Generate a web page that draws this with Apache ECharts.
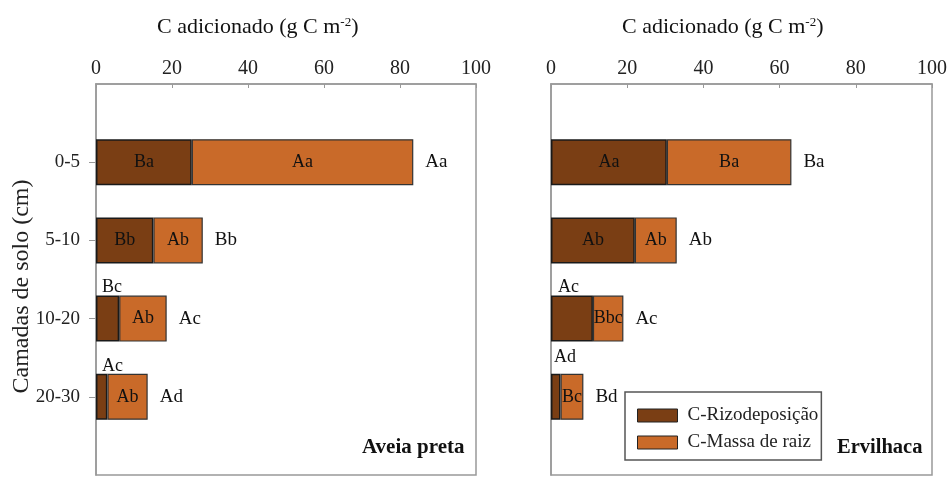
<!DOCTYPE html>
<html>
<head>
<meta charset="utf-8">
<script src="https://cdn.jsdelivr.net/npm/echarts@6/dist/echarts.min.js"></script>
<style>html,body{margin:0;padding:0;background:#fff}#c{width:952px;height:479px}</style>
</head>
<body>
<div id="c"></div>
<script>
// ---- data ----
const layers = ['0-5', '5-10', '10-20', '20-30'];
const xTicks = [0, 20, 40, 60, 80, 100];
// Aveia preta
const aveiaRizo = [25.2, 15.1, 6.1, 3.0];
const aveiaMassa = [58.3, 13.0, 12.5, 10.6];
const aveiaRizoLetters = ['Ba', 'Bb', 'Bc', 'Ac'];
const aveiaMassaLetters = ['Aa', 'Ab', 'Ab', 'Ab'];
const aveiaTotalLetters = ['Aa', 'Bb', 'Ac', 'Ad'];
// Ervilhaca
const ervRizo = [30.4, 22.0, 11.0, 2.5];
const ervMassa = [32.7, 11.0, 8.0, 6.0];
const ervRizoLetters = ['Aa', 'Ab', 'Ac', 'Ad'];
const ervMassaLetters = ['Ba', 'Ab', 'Bbc', 'Bc'];
const ervTotalLetters = ['Ba', 'Ab', 'Ac', 'Bd'];
const seriesNames = ['C-Rizodeposição', 'C-Massa de raiz'];
const panelNames = ['Aveia preta', 'Ervilhaca'];

// ---- styling ----
const FONT = "'Liberation Serif', 'Times New Roman', serif";
const cRizo = '#7a3e14';
const cMassa = '#c96a29';
const cats = [''].concat(layers).concat(['']);

function makeSeries(idx, rizo, massa, rL, mL, tL, aboveOffsets) {
  const stack = 's' + idx;
  const rizoData = rizo.map((v, i) => {
    const item = { value: [v, layers[i]] };
    if (aboveOffsets[i]) {
      item.label = { position: aboveOffsets[i], align: 'left', verticalAlign: 'bottom' };
    }
    return item;
  });
  return [
    {
      name: seriesNames[0], type: 'bar', stack, xAxisIndex: idx, yAxisIndex: idx,
      barWidth: 46,
      itemStyle: { color: cRizo, borderColor: '#1a1a1a', borderWidth: 1.5 },
      label: { show: true, position: 'inside', fontFamily: FONT, fontSize: 18, color: '#111',
        formatter: p => rL[p.dataIndex] },
      data: rizoData
    },
    {
      name: seriesNames[1], type: 'bar', stack, xAxisIndex: idx, yAxisIndex: idx,
      barWidth: 46,
      itemStyle: { color: cMassa, borderColor: '#333', borderWidth: 1.2 },
      label: { show: true, position: 'inside', fontFamily: FONT, fontSize: 18, color: '#111',
        formatter: p => mL[p.dataIndex] },
      data: massa.map((v, i) => [v, layers[i]])
    },
    {
      name: 'total', type: 'bar', stack, xAxisIndex: idx, yAxisIndex: idx,
      barWidth: 46, silent: true,
      itemStyle: { color: 'rgba(0,0,0,0)', borderWidth: 0 },
      label: { show: true, position: 'right', distance: 12, fontFamily: FONT, fontSize: 19, color: '#111',
        formatter: p => tL[p.dataIndex] },
      data: layers.map(l => [0, l])
    }
  ];
}

const chart = echarts.init(document.getElementById('c'));
const grids = [
  { left: 96, right: 476, top: 84, bottom: 4 },
  { left: 551, right: 20, top: 84, bottom: 4 }
];
const titleRich = {
  a: { fontFamily: FONT, fontSize: 22, fontWeight: 'normal', color: '#111' },
  s: { fontFamily: FONT, fontSize: 13, fontWeight: 'normal', color: '#111', verticalAlign: 'top', padding: [0, 0, 10, 0] }
};
const option = {
  backgroundColor: '#fff',
  animation: false,
  textStyle: { fontFamily: FONT },
  title: [
    { text: '{a|C adicionado (g C m}{s|-2}{a|)}', left: 157, top: 16, padding: 0,
      textStyle: { fontWeight: 'normal', rich: titleRich } },
    { text: '{a|C adicionado (g C m}{s|-2}{a|)}', left: 622, top: 16, padding: 0,
      textStyle: { fontWeight: 'normal', rich: titleRich } },
    { text: panelNames[0], left: 362, top: 437, padding: 0, textStyle: { fontFamily: FONT, fontSize: 21, fontWeight: 'bold', color: '#111' } },
    { text: panelNames[1], left: 837, top: 437, padding: 0, textStyle: { fontFamily: FONT, fontSize: 20.5, fontWeight: 'bold', color: '#111' } }
  ],
  legend: {
    data: seriesNames, orient: 'vertical', left: 625, top: 392,
    itemWidth: 40, itemHeight: 13, itemGap: 8,
    padding: [14, 3, 8, 12],
    borderColor: '#555', borderWidth: 1.5,
    icon: 'rect',
    itemStyle: { borderColor: '#222', borderWidth: 1 },
    textStyle: { fontFamily: FONT, fontSize: 19, color: '#222', padding: [0, 0, 0, 5] }
  },
  grid: grids.map(g => Object.assign({ show: true, borderColor: '#999', borderWidth: 1.5, backgroundColor: '#fff' }, g)),
  xAxis: [0, 1].map(i => ({
    type: 'value', gridIndex: i, position: 'top', min: 0, max: 100, interval: 20,
    axisLine: { show: true, lineStyle: { color: '#999', width: 1.5 } },
    axisTick: { show: true, inside: true, length: 4, lineStyle: { color: '#999' } },
    splitLine: { show: false },
    axisLabel: { margin: 5, fontFamily: FONT, fontSize: 20, color: '#222',
      formatter: v => xTicks.includes(v) ? String(v) : '' }
  })),
  yAxis: [0, 1].map(i => ({
    type: 'category', gridIndex: i, inverse: true, boundaryGap: false, data: cats,
    name: i === 0 ? 'Camadas de solo (cm)' : '',
    nameLocation: 'middle', nameGap: 62, nameRotate: 90, nameMoveOverlap: false,
    nameTextStyle: { fontFamily: FONT, fontSize: 24, color: '#222', padding: [0, 14, 0, 0] },
    axisLine: { show: true, lineStyle: { color: '#999', width: 1.5 } },
    axisTick: { show: i === 0, length: 7, lineStyle: { color: '#999' },
      interval: (idx, val) => val !== '' },
    axisLabel: { show: i === 0, margin: 16, fontFamily: FONT, fontSize: 19, color: '#222',
      interval: 0 },
    splitLine: { show: false }
  })),
  series: [].concat(
    makeSeries(0, aveiaRizo, aveiaMassa, aveiaRizoLetters, aveiaMassaLetters, aveiaTotalLetters,
      [null, null, [6, 1], [6, 1]]),
    makeSeries(1, ervRizo, ervMassa, ervRizoLetters, ervMassaLetters, ervTotalLetters,
      [null, null, [7, 1], [3, -8]])
  )
};
chart.setOption(option);
</script>
</body>
</html>
